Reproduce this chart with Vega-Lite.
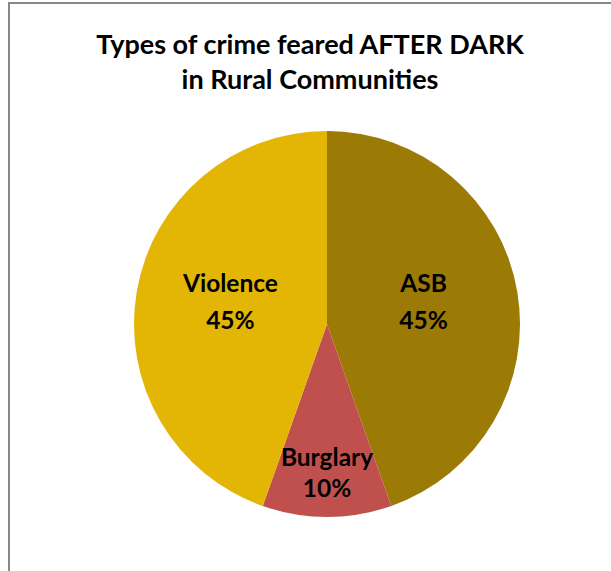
{
  "$schema": "https://vega.github.io/schema/vega-lite/v6.json",
  "autosize": "none",
  "padding": {"left": 9, "top": 3, "right": 0, "bottom": 0},
  "width": 636,
  "height": 642,
  "background": "white",
  "config": {"view": {"stroke": null}},
  "title": {
    "text": ["Types of crime feared AFTER DARK", "in Rural Communities"],
    "font": "Lato",
    "fontWeight": "bold",
    "fontSize": 27,
    "lineHeight": 35,
    "color": "#000000",
    "anchor": "middle",
    "offset": -93,
    "dx": -17
  },
  "data": {
    "values": [
      {"category": "ASB", "value": 44.6, "label": "ASB\n45%", "order": 1},
      {"category": "Burglary", "value": 10.8, "label": "Burglary\n10%", "order": 2},
      {"category": "Violence", "value": 44.6, "label": "Violence\n45%", "order": 3}
    ]
  },
  "layer": [
    {
      "data": {"values": [{"frame": "frame"}]},
      "mark": {"type": "rect", "fill": "transparent", "stroke": "#878787", "strokeWidth": 2},
      "encoding": {}
    },
    {
      "mark": {"type": "arc", "radius": 193},
      "encoding": {
        "theta": {"field": "value", "type": "quantitative", "stack": true},
        "order": {"field": "order", "type": "quantitative"},
        "color": {
          "field": "category",
          "type": "nominal",
          "scale": {"domain": ["ASB", "Burglary", "Violence"], "range": ["#9C7A06", "#C0504D", "#E3B505"]},
          "legend": null
        }
      }
    },
    {
      "mark": {"type": "text", "radius": 98, "dy": -22, "font": "Lato", "fontWeight": "bold", "fontSize": 24.5, "lineBreak": "\n", "lineHeight": 37, "baseline": "middle", "color": "#000000"},
      "encoding": {
        "theta": {"field": "value", "type": "quantitative", "stack": true},
        "order": {"field": "order", "type": "quantitative"},
        "text": {"field": "label"},
        "opacity": {"condition": {"test": "datum.category === 'Burglary'", "value": 0}, "value": 1}
      }
    },
    {
      "mark": {"type": "text", "radius": 135, "font": "Lato", "fontWeight": "bold", "fontSize": 24.5, "lineBreak": "\n", "lineHeight": 31, "baseline": "middle", "color": "#000000"},
      "encoding": {
        "theta": {"field": "value", "type": "quantitative", "stack": true},
        "order": {"field": "order", "type": "quantitative"},
        "text": {"field": "label"},
        "opacity": {"condition": {"test": "datum.category === 'Burglary'", "value": 1}, "value": 0}
      }
    }
  ]
}
